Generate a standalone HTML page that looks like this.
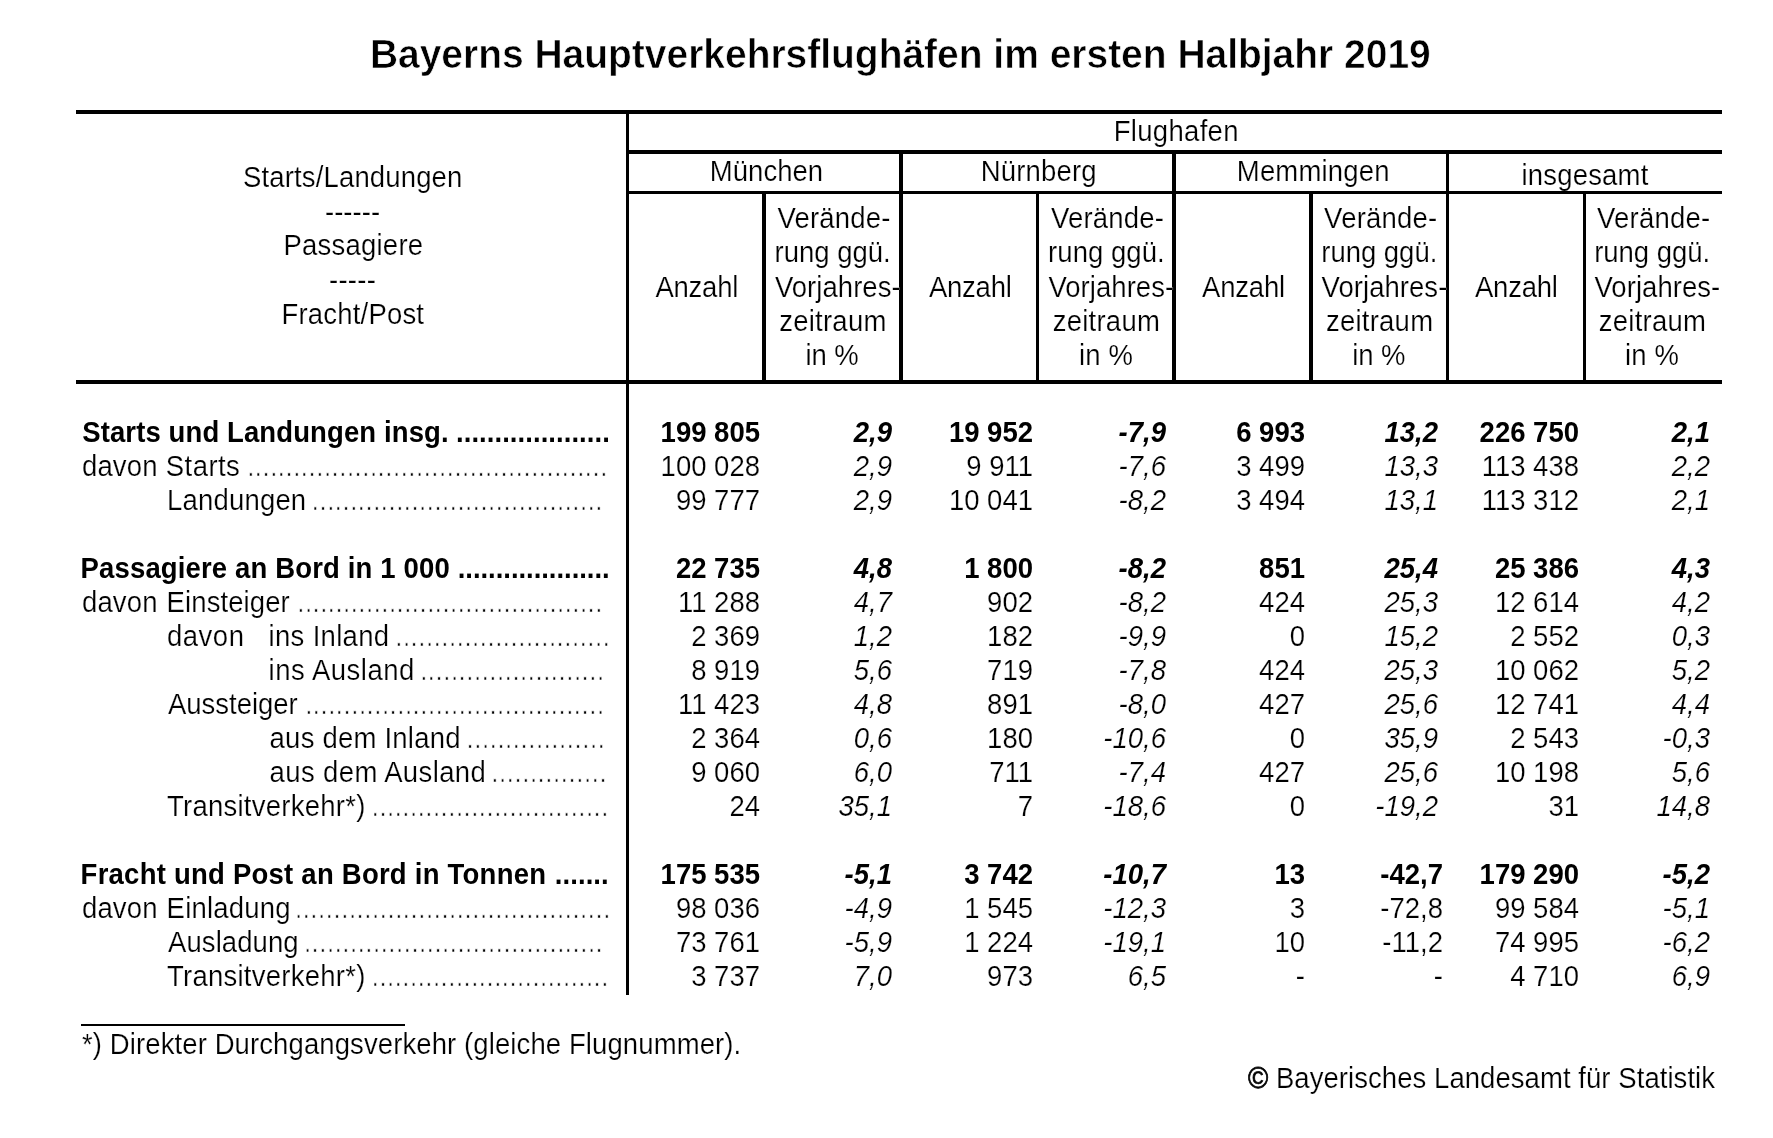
<!DOCTYPE html>
<html lang="de"><head><meta charset="utf-8"><title>Bayerns Hauptverkehrsflughäfen im ersten Halbjahr 2019</title>
<style>
html,body{margin:0;padding:0;background:#fff;}
body{width:1773px;height:1138px;position:relative;overflow:hidden;font-family:'Liberation Sans', Arial, sans-serif;color:#000;filter:grayscale(1);}
.t{position:absolute;font-size:27.5px;line-height:34px;white-space:pre;transform:scaleY(1.04);transform-origin:0 26px;-webkit-text-stroke:0.2px #fff;}
.d{-webkit-text-stroke:0.6px #fff;}
.b{font-weight:bold;-webkit-text-stroke:0;}
.i{font-style:italic;}
.ti{-webkit-text-stroke:0.6px #fff;}
.c{-webkit-text-stroke:0.7px #000;}
.r{position:absolute;background:#000;}
</style></head><body>
<div class="t b ti" style="top:38px;left:369.9px;font-size:39px;transform-origin:0 30px;letter-spacing:-0.023px;">Bayerns Hauptverkehrsflughäfen im ersten Halbjahr 2019</div>
<div class="r" style="left:76px;top:110px;width:1646px;height:4px"></div>
<div class="r" style="left:626px;top:110px;width:3px;height:885px"></div>
<div class="r" style="left:626px;top:150px;width:1096px;height:4px"></div>
<div class="r" style="left:626px;top:191px;width:1096px;height:3px"></div>
<div class="r" style="left:76px;top:380px;width:1646px;height:4px"></div>
<div class="r" style="left:899px;top:150px;width:4px;height:234px"></div>
<div class="r" style="left:1172px;top:150px;width:4px;height:234px"></div>
<div class="r" style="left:1446px;top:150px;width:3px;height:234px"></div>
<div class="r" style="left:762px;top:191px;width:4px;height:193px"></div>
<div class="r" style="left:1036px;top:191px;width:3px;height:193px"></div>
<div class="r" style="left:1309px;top:191px;width:4px;height:193px"></div>
<div class="r" style="left:1583px;top:191px;width:3px;height:193px"></div>
<div class="r" style="left:81px;top:1024px;width:324px;height:2px"></div>
<div class="t" style="top:115px;left:1113.65px;letter-spacing:0.319px;">Flughafen</div>
<div class="t" style="top:155px;left:709.8px;letter-spacing:0.033px;">München</div>
<div class="t" style="top:155px;left:980.7px;letter-spacing:0.186px;">Nürnberg</div>
<div class="t" style="top:155px;left:1236.8px;letter-spacing:0.175px;">Memmingen</div>
<div class="t" style="top:159px;left:1521.5px;letter-spacing:0.188px;">insgesamt</div>
<div class="t" style="top:161px;left:243.0px;letter-spacing:0.147px;">Starts/Landungen</div>
<div class="t" style="top:196px;left:325px;letter-spacing:0.02px;">------</div>
<div class="t" style="top:229px;left:283.4px;letter-spacing:0.233px;">Passagiere</div>
<div class="t" style="top:264px;left:329px;letter-spacing:0.25px;">-----</div>
<div class="t" style="top:298px;left:281.5px;letter-spacing:0.19px;">Fracht/Post</div>
<div class="t" style="top:271px;left:655.4px;letter-spacing:-0.22px;">Anzahl</div>
<div class="t" style="top:202px;left:777.4px;letter-spacing:0.214px;">Verände-</div>
<div class="t" style="top:236px;left:774.6px;letter-spacing:-0.025px;">rung ggü.</div>
<div class="t" style="top:271px;left:774.9px;letter-spacing:0.044px;">Vorjahres-</div>
<div class="t" style="top:305px;left:779.2px;letter-spacing:0.243px;">zeitraum</div>
<div class="t" style="top:339px;left:805.5px;letter-spacing:-0.067px;">in %</div>
<div class="t" style="top:271px;left:928.9px;letter-spacing:-0.22px;">Anzahl</div>
<div class="t" style="top:202px;left:1050.9px;letter-spacing:0.214px;">Verände-</div>
<div class="t" style="top:236px;left:1048.1px;letter-spacing:0.05px;">rung ggü.</div>
<div class="t" style="top:271px;left:1048.4px;letter-spacing:0.044px;">Vorjahres-</div>
<div class="t" style="top:305px;left:1052.7px;letter-spacing:0.243px;">zeitraum</div>
<div class="t" style="top:339px;left:1079.0px;letter-spacing:0.133px;">in %</div>
<div class="t" style="top:271px;left:1202.1px;letter-spacing:-0.22px;">Anzahl</div>
<div class="t" style="top:202px;left:1324.1px;letter-spacing:0.214px;">Verände-</div>
<div class="t" style="top:236px;left:1321.3px;letter-spacing:-0.025px;">rung ggü.</div>
<div class="t" style="top:271px;left:1321.6px;letter-spacing:0.044px;">Vorjahres-</div>
<div class="t" style="top:305px;left:1325.9px;letter-spacing:0.243px;">zeitraum</div>
<div class="t" style="top:339px;left:1352.2px;letter-spacing:-0.067px;">in %</div>
<div class="t" style="top:271px;left:1475.0px;letter-spacing:-0.22px;">Anzahl</div>
<div class="t" style="top:202px;left:1597.0px;letter-spacing:0.214px;">Verände-</div>
<div class="t" style="top:236px;left:1594.2px;letter-spacing:-0.025px;">rung ggü.</div>
<div class="t" style="top:271px;left:1594.5px;letter-spacing:0.044px;">Vorjahres-</div>
<div class="t" style="top:305px;left:1598.8px;letter-spacing:0.243px;">zeitraum</div>
<div class="t" style="top:339px;left:1625.1px;letter-spacing:0.133px;">in %</div>
<div class="t b" style="top:416px;left:82.2px;letter-spacing:0.112px;">Starts und Landungen insg.</div>
<div class="t b" style="top:416px;left:456px;letter-spacing:0.053px;">....................</div>
<div class="t b" style="top:416px;right:1013px;text-align:right;">199 805</div>
<div class="t b i" style="top:416px;right:881px;text-align:right;">2,9</div>
<div class="t b" style="top:416px;right:740px;text-align:right;">19 952</div>
<div class="t b i" style="top:416px;right:607px;text-align:right;">-7,9</div>
<div class="t b" style="top:416px;right:468px;text-align:right;">6 993</div>
<div class="t b i" style="top:416px;right:335px;text-align:right;">13,2</div>
<div class="t b" style="top:416px;right:194px;text-align:right;">226 750</div>
<div class="t b i" style="top:416px;right:63px;text-align:right;">2,1</div>
<div class="t" style="top:450px;left:82px;letter-spacing:0.125px;">davon</div>
<div class="t" style="top:450px;left:165.8px;letter-spacing:0.44px;">Starts</div>
<div class="t d" style="top:450px;left:246.9px;letter-spacing:0.035px;">...............................................</div>
<div class="t" style="top:450px;right:1013px;text-align:right;">100 028</div>
<div class="t i" style="top:450px;right:881px;text-align:right;">2,9</div>
<div class="t" style="top:450px;right:740px;text-align:right;">9 911</div>
<div class="t i" style="top:450px;right:607px;text-align:right;">-7,6</div>
<div class="t" style="top:450px;right:468px;text-align:right;">3 499</div>
<div class="t i" style="top:450px;right:335px;text-align:right;">13,3</div>
<div class="t" style="top:450px;right:194px;text-align:right;">113 438</div>
<div class="t i" style="top:450px;right:63px;text-align:right;">2,2</div>
<div class="t" style="top:484px;left:167px;letter-spacing:0.188px;">Landungen</div>
<div class="t d" style="top:484px;left:311.6px;letter-spacing:0.022px;">......................................</div>
<div class="t" style="top:484px;right:1013px;text-align:right;">99 777</div>
<div class="t i" style="top:484px;right:881px;text-align:right;">2,9</div>
<div class="t" style="top:484px;right:740px;text-align:right;">10 041</div>
<div class="t i" style="top:484px;right:607px;text-align:right;">-8,2</div>
<div class="t" style="top:484px;right:468px;text-align:right;">3 494</div>
<div class="t i" style="top:484px;right:335px;text-align:right;">13,1</div>
<div class="t" style="top:484px;right:194px;text-align:right;">113 312</div>
<div class="t i" style="top:484px;right:63px;text-align:right;">2,1</div>
<div class="t b" style="top:552px;left:80.6px;letter-spacing:0.146px;">Passagiere an Bord in 1 000</div>
<div class="t b" style="top:552px;left:457.7px;letter-spacing:-0.042px;">....................</div>
<div class="t b" style="top:552px;right:1013px;text-align:right;">22 735</div>
<div class="t b i" style="top:552px;right:881px;text-align:right;">4,8</div>
<div class="t b" style="top:552px;right:740px;text-align:right;">1 800</div>
<div class="t b i" style="top:552px;right:607px;text-align:right;">-8,2</div>
<div class="t b" style="top:552px;right:468px;text-align:right;">851</div>
<div class="t b i" style="top:552px;right:335px;text-align:right;">25,4</div>
<div class="t b" style="top:552px;right:194px;text-align:right;">25 386</div>
<div class="t b i" style="top:552px;right:63px;text-align:right;">4,3</div>
<div class="t" style="top:586px;left:82px;letter-spacing:0.125px;">davon</div>
<div class="t" style="top:586px;left:166.6px;letter-spacing:0.1px;">Einsteiger</div>
<div class="t d" style="top:586px;left:297px;">........................................</div>
<div class="t" style="top:586px;right:1013px;text-align:right;">11 288</div>
<div class="t i" style="top:586px;right:881px;text-align:right;">4,7</div>
<div class="t" style="top:586px;right:740px;text-align:right;">902</div>
<div class="t i" style="top:586px;right:607px;text-align:right;">-8,2</div>
<div class="t" style="top:586px;right:468px;text-align:right;">424</div>
<div class="t i" style="top:586px;right:335px;text-align:right;">25,3</div>
<div class="t" style="top:586px;right:194px;text-align:right;">12 614</div>
<div class="t i" style="top:586px;right:63px;text-align:right;">4,2</div>
<div class="t" style="top:620px;left:167px;letter-spacing:0.5px;">davon</div>
<div class="t" style="top:620px;left:268.6px;letter-spacing:0.311px;">ins Inland</div>
<div class="t d" style="top:620px;left:395px;letter-spacing:0.044px;">............................</div>
<div class="t" style="top:620px;right:1013px;text-align:right;">2 369</div>
<div class="t i" style="top:620px;right:881px;text-align:right;">1,2</div>
<div class="t" style="top:620px;right:740px;text-align:right;">182</div>
<div class="t i" style="top:620px;right:607px;text-align:right;">-9,9</div>
<div class="t" style="top:620px;right:468px;text-align:right;">0</div>
<div class="t i" style="top:620px;right:335px;text-align:right;">15,2</div>
<div class="t" style="top:620px;right:194px;text-align:right;">2 552</div>
<div class="t i" style="top:620px;right:63px;text-align:right;">0,3</div>
<div class="t" style="top:654px;left:268.6px;letter-spacing:0.51px;">ins Ausland</div>
<div class="t d" style="top:654px;left:419.9px;letter-spacing:0.048px;">........................</div>
<div class="t" style="top:654px;right:1013px;text-align:right;">8 919</div>
<div class="t i" style="top:654px;right:881px;text-align:right;">5,6</div>
<div class="t" style="top:654px;right:740px;text-align:right;">719</div>
<div class="t i" style="top:654px;right:607px;text-align:right;">-7,8</div>
<div class="t" style="top:654px;right:468px;text-align:right;">424</div>
<div class="t i" style="top:654px;right:335px;text-align:right;">25,3</div>
<div class="t" style="top:654px;right:194px;text-align:right;">10 062</div>
<div class="t i" style="top:654px;right:63px;text-align:right;">5,2</div>
<div class="t" style="top:688px;left:168px;letter-spacing:-0.023px;">Aussteiger</div>
<div class="t d" style="top:688px;left:304.9px;letter-spacing:0.037px;">.......................................</div>
<div class="t" style="top:688px;right:1013px;text-align:right;">11 423</div>
<div class="t i" style="top:688px;right:881px;text-align:right;">4,8</div>
<div class="t" style="top:688px;right:740px;text-align:right;">891</div>
<div class="t i" style="top:688px;right:607px;text-align:right;">-8,0</div>
<div class="t" style="top:688px;right:468px;text-align:right;">427</div>
<div class="t i" style="top:688px;right:335px;text-align:right;">25,6</div>
<div class="t" style="top:688px;right:194px;text-align:right;">12 741</div>
<div class="t i" style="top:688px;right:63px;text-align:right;">4,4</div>
<div class="t" style="top:722px;left:269.6px;letter-spacing:0.223px;">aus dem Inland</div>
<div class="t d" style="top:722px;left:466.3px;letter-spacing:0.071px;">..................</div>
<div class="t" style="top:722px;right:1013px;text-align:right;">2 364</div>
<div class="t i" style="top:722px;right:881px;text-align:right;">0,6</div>
<div class="t" style="top:722px;right:740px;text-align:right;">180</div>
<div class="t i" style="top:722px;right:607px;text-align:right;">-10,6</div>
<div class="t" style="top:722px;right:468px;text-align:right;">0</div>
<div class="t i" style="top:722px;right:335px;text-align:right;">35,9</div>
<div class="t" style="top:722px;right:194px;text-align:right;">2 543</div>
<div class="t i" style="top:722px;right:63px;text-align:right;">-0,3</div>
<div class="t" style="top:756px;left:269.6px;letter-spacing:0.371px;">aus dem Ausland</div>
<div class="t d" style="top:756px;left:491px;letter-spacing:0.086px;">...............</div>
<div class="t" style="top:756px;right:1013px;text-align:right;">9 060</div>
<div class="t i" style="top:756px;right:881px;text-align:right;">6,0</div>
<div class="t" style="top:756px;right:740px;text-align:right;">711</div>
<div class="t i" style="top:756px;right:607px;text-align:right;">-7,4</div>
<div class="t" style="top:756px;right:468px;text-align:right;">427</div>
<div class="t i" style="top:756px;right:335px;text-align:right;">25,6</div>
<div class="t" style="top:756px;right:194px;text-align:right;">10 198</div>
<div class="t i" style="top:756px;right:63px;text-align:right;">5,6</div>
<div class="t" style="top:790px;left:167px;letter-spacing:0.247px;">Transitverkehr*)</div>
<div class="t d" style="top:790px;left:371.5px;letter-spacing:0.01px;">...............................</div>
<div class="t" style="top:790px;right:1013px;text-align:right;">24</div>
<div class="t i" style="top:790px;right:881px;text-align:right;">35,1</div>
<div class="t" style="top:790px;right:740px;text-align:right;">7</div>
<div class="t i" style="top:790px;right:607px;text-align:right;">-18,6</div>
<div class="t" style="top:790px;right:468px;text-align:right;">0</div>
<div class="t i" style="top:790px;right:335px;text-align:right;">-19,2</div>
<div class="t" style="top:790px;right:194px;text-align:right;">31</div>
<div class="t i" style="top:790px;right:63px;text-align:right;">14,8</div>
<div class="t b" style="top:858px;left:80.6px;letter-spacing:0.238px;">Fracht und Post an Bord in Tonnen</div>
<div class="t b" style="top:858px;left:554.8px;letter-spacing:0.067px;">.......</div>
<div class="t b" style="top:858px;right:1013px;text-align:right;">175 535</div>
<div class="t b i" style="top:858px;right:881px;text-align:right;">-5,1</div>
<div class="t b" style="top:858px;right:740px;text-align:right;">3 742</div>
<div class="t b i" style="top:858px;right:607px;text-align:right;">-10,7</div>
<div class="t b" style="top:858px;right:468px;text-align:right;">13</div>
<div class="t b" style="top:858px;right:330px;text-align:right;">-42,7</div>
<div class="t b" style="top:858px;right:194px;text-align:right;">179 290</div>
<div class="t b i" style="top:858px;right:63px;text-align:right;">-5,2</div>
<div class="t" style="top:892px;left:82px;letter-spacing:0.125px;">davon</div>
<div class="t" style="top:892px;left:166.6px;letter-spacing:0.2px;">Einladung</div>
<div class="t d" style="top:892px;left:294.7px;letter-spacing:0.067px;">.........................................</div>
<div class="t" style="top:892px;right:1013px;text-align:right;">98 036</div>
<div class="t i" style="top:892px;right:881px;text-align:right;">-4,9</div>
<div class="t" style="top:892px;right:740px;text-align:right;">1 545</div>
<div class="t i" style="top:892px;right:607px;text-align:right;">-12,3</div>
<div class="t" style="top:892px;right:468px;text-align:right;">3</div>
<div class="t" style="top:892px;right:330px;text-align:right;">-72,8</div>
<div class="t" style="top:892px;right:194px;text-align:right;">99 584</div>
<div class="t i" style="top:892px;right:63px;text-align:right;">-5,1</div>
<div class="t" style="top:926px;left:168.1px;letter-spacing:0.063px;">Ausladung</div>
<div class="t d" style="top:926px;left:303.7px;letter-spacing:0.034px;">.......................................</div>
<div class="t" style="top:926px;right:1013px;text-align:right;">73 761</div>
<div class="t i" style="top:926px;right:881px;text-align:right;">-5,9</div>
<div class="t" style="top:926px;right:740px;text-align:right;">1 224</div>
<div class="t i" style="top:926px;right:607px;text-align:right;">-19,1</div>
<div class="t" style="top:926px;right:468px;text-align:right;">10</div>
<div class="t" style="top:926px;right:330px;text-align:right;">-11,2</div>
<div class="t" style="top:926px;right:194px;text-align:right;">74 995</div>
<div class="t i" style="top:926px;right:63px;text-align:right;">-6,2</div>
<div class="t" style="top:960px;left:167px;letter-spacing:0.247px;">Transitverkehr*)</div>
<div class="t d" style="top:960px;left:371.5px;letter-spacing:0.01px;">...............................</div>
<div class="t" style="top:960px;right:1013px;text-align:right;">3 737</div>
<div class="t i" style="top:960px;right:881px;text-align:right;">7,0</div>
<div class="t" style="top:960px;right:740px;text-align:right;">973</div>
<div class="t i" style="top:960px;right:607px;text-align:right;">6,5</div>
<div class="t" style="top:960px;right:468px;text-align:right;">-</div>
<div class="t" style="top:960px;right:330px;text-align:right;">-</div>
<div class="t" style="top:960px;right:194px;text-align:right;">4 710</div>
<div class="t i" style="top:960px;right:63px;text-align:right;">6,9</div>
<div class="t" style="top:1028px;left:82px;letter-spacing:0.102px;">*) Direkter Durchgangsverkehr (gleiche Flugnummer).</div>
<div class="t" style="top:1062px;left:1247.9px;letter-spacing:0.058px;"><span class="c">©</span> Bayerisches Landesamt für Statistik</div>
</body></html>
